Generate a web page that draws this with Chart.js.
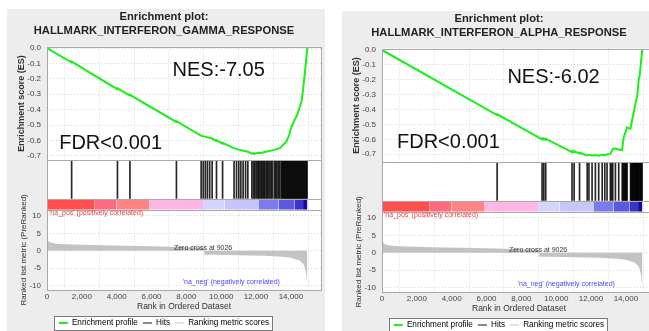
<!DOCTYPE html>
<html lang="en">
<head>
<meta charset="UTF-8">
<title>GSEA enrichment plots</title>
<style>
  html, body { margin: 0; padding: 0; background: #fff; width: 649px; height: 331px; overflow: hidden; }
  .panel { position: absolute; width: 318px; height: 322px; background: #ededed; }
  #left { left: 7px; top: 9px; }
  #right { left: 342px; top: 11px; }
</style>
</head>
<body>
<div class="panel" id="left"><canvas id="chartLeft" width="318" height="322"></canvas></div>
<div class="panel" id="right"><canvas id="chartRight" width="318" height="322"></canvas></div>

<script src="https://cdn.jsdelivr.net/npm/chart.js"></script>
<script>
// tick labels
const rankTicks = [0, 2000, 4000, 6000, 8000, 10000, 12000, 14000];
const esTicks = [0, -0.1, -0.2, -0.3, -0.4, -0.5, -0.6, -0.7];
const metricTicks = [10, 5, 0, -5, -10];

// ranked list metric (same pre-ranked list for both gene sets)
const metricRank = [0, 40, 120, 300, 700, 1500, 3000, 4500, 6000, 7500, 8500, 9025, 9027, 9600, 11000, 12500, 13500, 14000, 14500, 14750, 14880, 14950];
const metricValue = [3.5, 3.0, 2.6, 2.2, 1.95, 1.8, 1.6, 1.45, 1.3, 1.1, 0.95, 0.85, -1.1, -1.15, -1.3, -1.45, -1.7, -2.0, -2.8, -4.0, -6.5, -10.2];

// red -> blue colour bar under the hits
const barStart = [0, 2740, 3990, 5860, 8960, 10200, 12170, 13300, 14200, 14700];
const barEnd = [2740, 3990, 5860, 8960, 10200, 12170, 13300, 14200, 14700, 14950];
const barColor = ['#ff4f4f', '#ff6b7e', '#ff8585', '#ffb6e4', '#d4d4ff', '#c6c6fb', '#7b7bee', '#5a5ae0', '#3a34cc', '#1a0a9a'];

// HALLMARK_INTERFERON_GAMMA_RESPONSE
const gammaRank = [0, 1400, 1415, 4030, 4045, 4745, 4760, 7415, 7430, 8840, 9000, 9480, 9720, 9730, 10070, 10080, 10730, 11000, 11530, 11760, 11850, 11930, 12100, 12300, 12500, 12800, 13100, 13370, 13550, 13750, 13900, 14040, 14180, 14320, 14460, 14610, 14700, 14800, 14880, 14940];
const gammaES = [0, -0.093, -0.088, -0.267, -0.262, -0.309, -0.304, -0.480, -0.475, -0.569, -0.574, -0.588, -0.604, -0.599, -0.621, -0.616, -0.650, -0.660, -0.674, -0.686, -0.683, -0.688, -0.680, -0.682, -0.676, -0.668, -0.660, -0.650, -0.630, -0.607, -0.565, -0.510, -0.475, -0.445, -0.400, -0.350, -0.270, -0.165, -0.075, 0];
const gammaHits = [1415, 4045, 4760, 7430, 8850, 8970, 9090, 9210, 9340, 9480, 9730, 10080, 10740, 10880, 11010, 11130, 11260, 11400, 11530, 11760, 11850, 11930, 12010, 12100, 12160, 12230, 12300, 12370, 12440, 12500, 12580, 12650, 12720, 12800, 12870, 12950, 13060, 13130, 13200, 13280, 13350, 13440, 13490, 13540, 13590, 13640, 13690, 13740, 13790, 13840, 13890, 13940, 13990, 14040, 14090, 14140, 14190, 14240, 14290, 14340, 14390, 14440, 14490, 14540, 14590, 14640, 14690, 14740, 14790, 14840, 14890, 14930];

// HALLMARK_INTERFERON_ALPHA_RESPONSE
const alphaRank = [0, 6600, 6615, 9185, 9200, 9290, 9300, 9400, 9410, 10600, 10905, 10915, 11025, 11035, 11335, 11345, 11775, 11880, 12060, 12250, 12440, 12640, 12790, 12920, 13110, 13250, 13400, 13590, 13780, 13880, 14070, 14262, 14360, 14450, 14550, 14650, 14740, 14797, 14860, 14935];
const alphaES = [0, -0.437, -0.432, -0.600, -0.595, -0.601, -0.596, -0.602, -0.597, -0.668, -0.686, -0.679, -0.685, -0.679, -0.696, -0.690, -0.708, -0.704, -0.709, -0.705, -0.710, -0.703, -0.706, -0.700, -0.698, -0.665, -0.662, -0.668, -0.672, -0.585, -0.520, -0.530, -0.470, -0.420, -0.360, -0.310, -0.200, -0.170, -0.090, 0];
const alphaHits = [6610, 9190, 9290, 9400, 10910, 11030, 11340, 11780, 11880, 12060, 12250, 12440, 12640, 12790, 12920, 13110, 13170, 13250, 13400, 13590, 13790, 13840, 13890, 13940, 13990, 14030, 14070, 14270, 14310, 14350, 14390, 14430, 14470, 14510, 14550, 14590, 14630, 14670, 14710, 14740, 14800, 14840, 14880, 14935];

const legendNames = ['Enrichment profile', 'Hits', 'Ranking metric scores'];
const legendColors = ['#22ee22', '#888888', '#e2e2e2'];

Chart.defaults.font.family = "'Liberation Sans', Arial, sans-serif";

function pts(xs, ys) {
    return xs.map((x, i) => ({ x: x, y: ys[i] }));
}

const setTicks = list => scale => { scale.ticks = list.map(v => ({ value: v })); };
const fixWidth = scale => { scale.width = 40; };

// white plot area, separators, frame, legend box and the text notes
const gseaDecor = {
    id: 'gseaDecor',
    beforeDraw(chart) {
        const { ctx, chartArea: a, legend } = chart;
        ctx.save();
        ctx.fillStyle = '#fff';
        ctx.fillRect(a.left, a.top, a.right - a.left, a.bottom - a.top);
        const boxes = legend.legendHitBoxes;
        if (boxes && boxes.length) {
            const l = Math.min(...boxes.map(b => b.left)) - 5;
            const r = Math.max(...boxes.map(b => b.left + b.width)) + 3;
            const cy = boxes[0].top + boxes[0].height / 2;
            ctx.fillRect(l, cy - 7, r - l, 14);
            ctx.strokeStyle = '#777';
            ctx.lineWidth = 1;
            ctx.strokeRect(Math.round(l) + 0.5, Math.round(cy - 7) + 0.5, Math.round(r - l), 14);
        }
        ctx.restore();
    },
    beforeDatasetsDraw(chart) {
        const { ctx, chartArea: a } = chart;
        const h = chart.scales.yHits;
        ctx.save();
        ctx.fillStyle = '#fff';
        ctx.fillRect(a.left, h.top, a.right - a.left, h.bottom - h.top);
        ctx.restore();
    },
    afterDatasetsDraw(chart, args, opts) {
        const { ctx, chartArea: a, scales } = chart;
        const x = scales.x, es = scales.yES, m = scales.yMetric;
        ctx.save();
        ctx.strokeStyle = '#a9a9a9';
        ctx.lineWidth = 1;
        [scales.yES.bottom, scales.yBar.top, scales.yBar.bottom].forEach(y => {
            const yy = Math.round(y) + 0.5;
            ctx.beginPath();
            ctx.moveTo(a.left, yy);
            ctx.lineTo(a.right, yy);
            ctx.stroke();
        });
        ctx.strokeRect(Math.round(a.left) + 0.5, Math.round(a.top) + 0.5, Math.round(a.right - a.left), Math.round(a.bottom - a.top));

        ctx.textBaseline = 'middle';
        ctx.fillStyle = '#111';
        ctx.textAlign = 'left';
        ctx.font = "20px 'Liberation Sans', Arial, sans-serif";
        ctx.fillText(opts.nes, x.getPixelForValue(opts.nesAt[0]), es.getPixelForValue(opts.nesAt[1]));
        ctx.fillText('FDR<0.001', x.getPixelForValue(opts.fdrAt[0]), es.getPixelForValue(opts.fdrAt[1]));

        ctx.font = "7px 'Liberation Sans', Arial, sans-serif";
        ctx.fillStyle = '#f03c3c';
        ctx.fillText("'na_pos' (positively correlated)", x.getPixelForValue(115), m.getPixelForValue(10.9));
        ctx.fillStyle = '#4848ff';
        ctx.textAlign = 'right';
        ctx.fillText("'na_neg' (negatively correlated)", x.getPixelForValue(13370), m.getPixelForValue(-8.9));
        ctx.fillStyle = '#333';
        ctx.textAlign = 'center';
        ctx.fillText('Zero cross at 9026', x.getPixelForValue(8960), m.getPixelForValue(0.8));
        ctx.restore();
    }
};

function makeChart(canvasId, setName, esRank, esVals, hits, esMin, notes) {
    const datasets = [
        {
            type: 'line', label: legendNames[0], data: pts(esRank, esVals), yAxisID: 'yES',
            borderColor: '#1aef1a', borderWidth: 2, pointRadius: 0, fill: false, tension: 0
        },
        {
            type: 'bar', label: legendNames[1], data: hits.map(h => ({ x: h, y: 1 })), yAxisID: 'yHits',
            backgroundColor: 'rgba(0,0,0,0.85)', borderWidth: 0, barThickness: 1, grouped: false
        },
        {
            type: 'line', label: legendNames[2], data: pts(metricRank, metricValue), yAxisID: 'yMetric',
            borderWidth: 0, borderColor: 'rgba(0,0,0,0)', backgroundColor: '#c3c3c3', fill: 'origin', pointRadius: 0, tension: 0
        }
    ];
    barStart.forEach((s, i) => {
        datasets.push({
            type: 'line', label: 'bar' + i, data: [{ x: s, y: 1 }, { x: barEnd[i], y: 1 }], yAxisID: 'yBar',
            borderWidth: 0, borderColor: barColor[i], backgroundColor: barColor[i], fill: 'origin', pointRadius: 0
        });
    });

    const gridLine = { color: '#d6d6d6', drawTicks: false };
    const tickFont = { size: 8 };

    return new Chart(document.getElementById(canvasId), {
        type: 'line',
        data: { datasets: datasets },
        options: {
            responsive: false,
            animation: false,
            events: [],
            layout: { padding: { left: 0, right: 4, top: 0, bottom: -6 } },
            scales: {
                x: {
                    type: 'linear', min: 0, max: 15730, offset: false,
                    afterBuildTicks: setTicks(rankTicks),
                    afterFit: s => { s.height = 24; },
                    ticks: { font: tickFont, color: '#444', padding: 2, maxRotation: 0, autoSkip: false, callback: v => v.toLocaleString('en-US') },
                    grid: gridLine,
                    border: { display: false, dash: [1, 2] },
                    title: { display: true, text: 'Rank in Ordered Dataset', font: { size: 8.5 }, color: '#333', padding: { top: 0, bottom: 2 } }
                },
                yES: {
                    type: 'linear', position: 'left', stack: 'gsea', stackWeight: 114, weight: 4,
                    min: esMin, max: 0.01,
                    afterBuildTicks: setTicks(esTicks),
                    afterFit: fixWidth,
                    ticks: { font: tickFont, color: '#444', padding: 6, autoSkip: false, callback: v => v.toFixed(1) },
                    grid: gridLine,
                    border: { display: false, dash: [1, 2] },
                    title: { display: true, text: 'Enrichment score (ES)', font: { size: 9, weight: 'bold' }, color: '#333', padding: { top: 9, bottom: 0 } }
                },
                yHits: {
                    type: 'linear', position: 'left', stack: 'gsea', stackWeight: 38.5, weight: 3,
                    min: 0, max: 1, afterFit: fixWidth,
                    ticks: { display: false }, grid: { display: false }, border: { display: false }
                },
                yBar: {
                    type: 'linear', position: 'left', stack: 'gsea', stackWeight: 11, weight: 2,
                    min: 0, max: 1, afterFit: fixWidth,
                    ticks: { display: false }, grid: { display: false }, border: { display: false }
                },
                yMetric: {
                    type: 'linear', position: 'left', stack: 'gsea', stackWeight: 80, weight: 1,
                    min: -11.15, max: 11.7,
                    afterBuildTicks: setTicks(metricTicks),
                    afterFit: fixWidth,
                    ticks: { font: tickFont, color: '#444', padding: 6, autoSkip: false, callback: v => String(v) },
                    grid: gridLine,
                    border: { display: false, dash: [1, 2] },
                    title: { display: true, text: 'Ranked list metric (PreRanked)', font: { size: 8 }, color: '#333', padding: { top: 12, bottom: 0 } }
                }
            },
            plugins: {
                title: {
                    display: true, text: ['Enrichment plot:', setName], color: '#222',
                    font: { size: 11.2, weight: 'bold', lineHeight: 1.25 },
                    padding: { top: 1, bottom: 8.5 }
                },
                legend: {
                    position: 'bottom',
                    onClick: null,
                    labels: {
                        boxWidth: 9, boxHeight: 2, padding: 5, color: '#222', font: { size: 8.2 },
                        generateLabels: () => legendNames.map((t, i) => ({
                            text: t, fillStyle: legendColors[i], strokeStyle: legendColors[i],
                            lineWidth: 0, hidden: false, datasetIndex: i
                        }))
                    }
                },
                tooltip: { enabled: false },
                gseaDecor: notes
            }
        },
        plugins: [gseaDecor]
    });
}

makeChart('chartLeft', 'HALLMARK_INTERFERON_GAMMA_RESPONSE', gammaRank, gammaES, gammaHits, -0.73,
    { nes: 'NES:-7.05', nesAt: [7210, -0.147], fdrAt: [700, -0.622] });
makeChart('chartRight', 'HALLMARK_INTERFERON_ALPHA_RESPONSE', alphaRank, alphaES, alphaHits, -0.755,
    { nes: 'NES:-6.02', nesAt: [7200, -0.187], fdrAt: [860, -0.62] });
</script>
</body>
</html>
